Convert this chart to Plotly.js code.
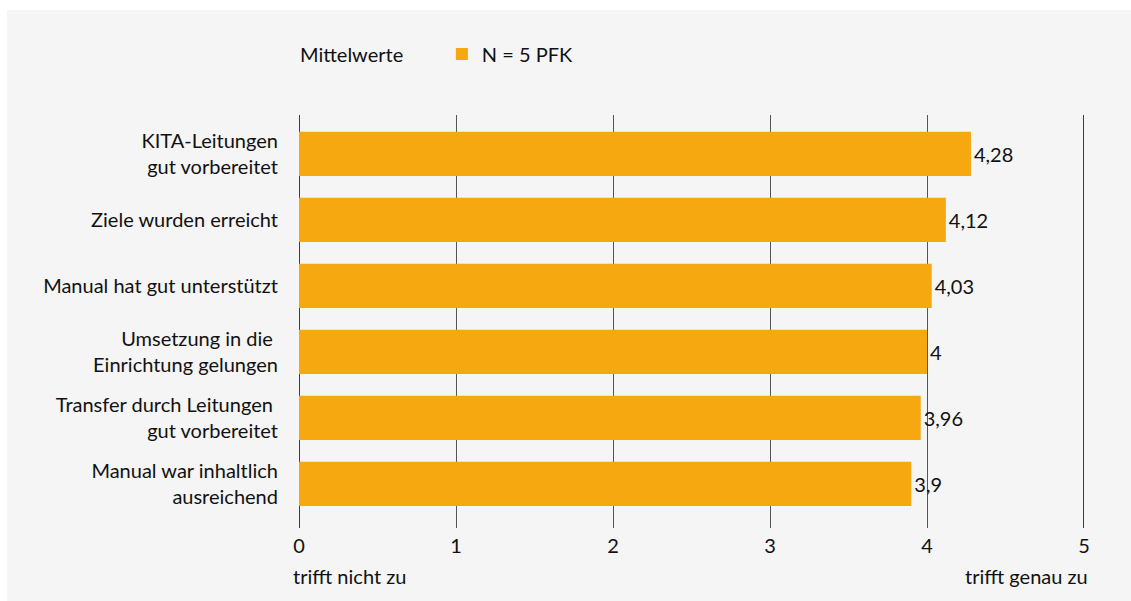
<!DOCTYPE html>
<html>
<head>
<meta charset="utf-8">
<script src="https://cdn.plot.ly/plotly-3.0.1.min.js"></script>
<style>
  html, body { margin: 0; padding: 0; background: #ffffff; }
  #chart { position: absolute; left: 7px; top: 10px; width: 1124px; height: 591px; }
</style>
</head>
<body>
<div id="chart"></div>
<script>
// Statements, listed bottom to top as they appear on the y axis
const statements = [
  'Manual war inhaltlich<br>ausreichend',
  'Transfer durch Leitungen\u00a0<br>gut vorbereitet',
  'Umsetzung in die\u00a0<br>Einrichtung gelungen',
  'Manual hat gut unterstützt',
  'Ziele wurden erreicht',
  'KITA-Leitungen<br>gut vorbereitet'
];
// Mean ratings (scale 0 = trifft nicht zu ... 5 = trifft genau zu)
const means = [3.9, 3.96, 4, 4.03, 4.12, 4.28];
const seriesName = 'N = 5 PFK';
const scaleTicks = [0, 1, 2, 3, 4, 5];
const scaleLow = 'trifft nicht zu';
const scaleHigh = 'trifft genau zu';

const font = 'Lato, "Open Sans", sans-serif';
const fs = 20;
const ink = '#111111';
const orange = '#F5A80F';

const labels = means.map(v => String(v).replace('.', ','));

const trace = {
  type: 'bar',
  orientation: 'h',
  x: means,
  y: statements,
  name: seriesName,
  marker: { color: orange },
  text: labels,
  textposition: 'outside',
  textfont: { family: font, size: fs, color: ink },
  cliponaxis: false,
  hoverinfo: 'x+y'
};

const layout = {
  paper_bgcolor: '#f5f5f5',
  plot_bgcolor: '#f5f5f5',
  margin: { l: 292, r: 47, t: 105, b: 73 },
  font: { family: font, size: fs, color: ink },
  bargap: 0.33,
  showlegend: true,
  legend: {
    orientation: 'h',
    x: 0.182, xanchor: 'left',
    y: 1.148, yref: 'paper', yanchor: 'middle',
    font: { family: font, size: fs, color: ink },
    bgcolor: 'rgba(0,0,0,0)'
  },
  xaxis: {
    range: [0, 5],
    tickvals: scaleTicks,
    ticktext: scaleTicks.map(String),
    showgrid: true,
    gridcolor: '#555555',
    gridwidth: 1,
    zeroline: false,
    showline: false,
    ticks: '',
    ticklabelstandoff: 4,
    tickfont: { family: font, size: fs, color: ink },
    fixedrange: true
  },
  yaxis: {
    type: 'category',
    range: [-0.67, 5.59],
    showgrid: false,
    zeroline: false,
    showline: false,
    ticks: '',
    ticklabelstandoff: 20,
    tickfont: { family: font, size: fs, color: ink },
    fixedrange: true
  },
  shapes: [
    { type: 'line', xref: 'x', yref: 'paper', x0: 0, x1: 0, y0: 0, y1: 1,
      line: { color: '#000000', width: 1.5 }, layer: 'below' },
    { type: 'line', xref: 'x', yref: 'paper', x0: 5, x1: 5, y0: 0, y1: 1,
      line: { color: '#000000', width: 1.5 }, layer: 'below' }
  ],
  annotations: [
    { text: 'Mittelwerte', xref: 'paper', yref: 'paper', x: 0, y: 1,
      xanchor: 'left', yanchor: 'middle', xshift: -1, yshift: 61,
      showarrow: false, font: { family: font, size: fs, color: ink } },
    { text: scaleLow, xref: 'paper', yref: 'paper', x: 0, y: 0,
      xanchor: 'left', yanchor: 'middle', xshift: -8, yshift: -48,
      showarrow: false, font: { family: font, size: fs, color: ink } },
    { text: scaleHigh, xref: 'paper', yref: 'paper', x: 1, y: 0,
      xanchor: 'right', yanchor: 'middle', xshift: 6, yshift: -48,
      showarrow: false, font: { family: font, size: fs, color: ink } }
  ]
};

Plotly.newPlot('chart', [trace], layout, { displayModeBar: false });
</script>
</body>
</html>
